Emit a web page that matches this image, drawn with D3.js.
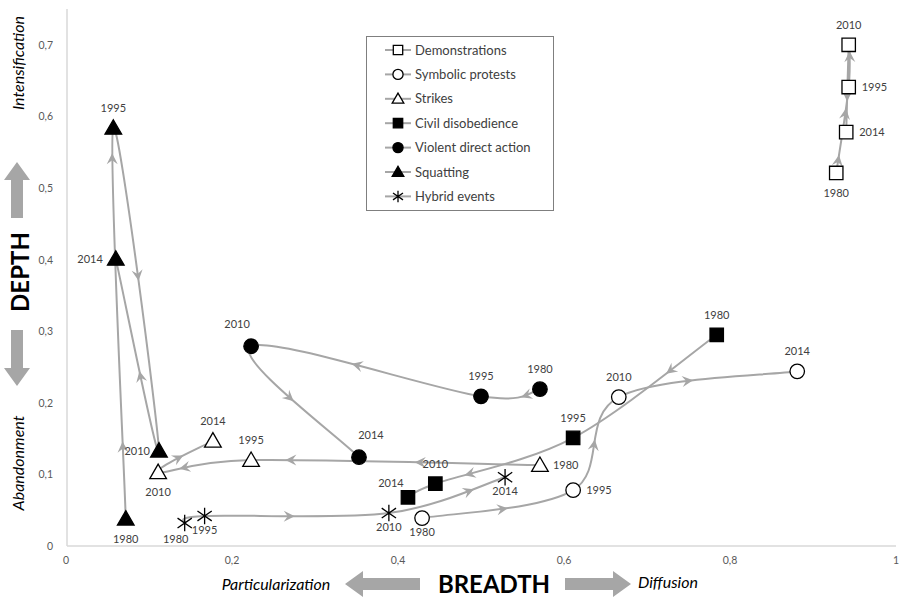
<!DOCTYPE html>
<html><head><meta charset="utf-8">
<script src="https://cdn.jsdelivr.net/npm/d3@7"></script>
<style>body{margin:0;background:#fff}svg{display:block}text{font-family:Lato,"Open Sans",sans-serif}</style>
</head><body>
<svg id="c" width="899" height="598"></svg>
<script>
// ---- data ----
const categories = ["Demonstrations","Symbolic protests","Strikes","Civil disobedience","Violent direct action","Squatting","Hybrid events"];
const years = ["1980","1995","2010","2014"];
// [breadth, depth] in year order 1980, 1995, 2010, 2014
const demonstrations = [[0.928,0.521],[0.943,0.641],[0.943,0.700],[0.940,0.578]];
const symbolicProtests = [[0.429,0.039],[0.611,0.078],[0.666,0.208],[0.881,0.244]];
const strikes = [[0.571,0.113],[0.223,0.120],[0.111,0.103],[0.177,0.147]];
const civilDisobedience = [[0.784,0.295],[0.611,0.151],[0.445,0.087],[0.412,0.068]];
const violentDirectAction = [[0.571,0.219],[0.500,0.209],[0.223,0.279],[0.353,0.124]];
const squatting = [[0.072,0.038],[0.057,0.584],[0.112,0.133],[0.060,0.401]];
const hybridEvents = [[0.143,0.032],[0.167,0.042],[0.389,0.046],[0.529,0.096]];
const xTicks = [0,0.2,0.4,0.6,0.8,1];
const yTicks = [0,0.1,0.2,0.3,0.4,0.5,0.6,0.7];

// ---- style / layout ----
const seriesData = [demonstrations,symbolicProtests,strikes,civilDisobedience,violentDirectAction,squatting,hybridEvents];
const markerKind = ["square","circle","triangle","square","circle","triangle","star"];
const markerFill = ["#fff","#fff","#fff","#000","#000","#000","none"];
const labelPlace = [["b","r","t","r"],["b2","r","t","t"],["r","t","b","t"],["t","t","t","tl"],["t","t","tl2","tr"],["b","t","l2","l"],["bl","b2","b2","b2"]];
const arrowSpots = [[[0,0.22],[0,0.7],[1,0.5],[2,0.6]],[[0,0.55],[1,0.5],[2,0.4]],[[0,0.45],[0,0.84],[1,0.5],[2,0.5]],[[0,0.4],[1,0.7]],[[0,0.5],[1,0.5],[2,0.5]],[[0,0.22],[0,0.83],[1,0.5],[2,0.5]],[[1,0.5],[2,0.6]]];

const svg = d3.select("#c");
const x = d3.scaleLinear().domain([0,1]).range([66,896]);
const y = d3.scaleLinear().domain([0,0.75]).range([546,9]);
const LINE = "#a6a6a6", TXT = "#404040";

// axis lines
svg.append("line").attr("x1",x(0)+1).attr("x2",x(0)+1).attr("y1",y(0.75)).attr("y2",y(0)).attr("stroke","#d9d9d9").attr("stroke-width",1.5);
svg.append("line").attr("x1",x(0)+1).attr("x2",x(1)).attr("y1",y(0)).attr("y2",y(0)).attr("stroke","#d9d9d9").attr("stroke-width",1.5);
const fmt = v => (v===0||v===1) ? String(v) : String(v).replace(".",",");
svg.append("g").selectAll("text").data(xTicks).join("text")
  .attr("x",d=>x(d)).attr("y",564).attr("text-anchor","middle").attr("font-size",10.5).attr("fill","#595959").text(fmt);
svg.append("g").selectAll("text").data(yTicks).join("text")
  .attr("x",53).attr("y",d=>y(d)+4).attr("text-anchor","end").attr("font-size",10.5).attr("fill","#595959").text(fmt);

// catmull-rom segments
function segs(pts){
  const p = pts.map(d=>[x(d[0]),y(d[1])]);
  const n = p.length, out=[];
  for(let i=0;i<n-1;i++){
    const p0=p[Math.max(i-1,0)], p1=p[i], p2=p[i+1], p3=p[Math.min(i+2,n-1)];
    out.push([p1,[p1[0]+(p2[0]-p0[0])/6,p1[1]+(p2[1]-p0[1])/6],[p2[0]-(p3[0]-p1[0])/6,p2[1]-(p3[1]-p1[1])/6],p2]);
  }
  return out;
}
function bez(s,t){
  const u=1-t;
  const px=u*u*u*s[0][0]+3*u*u*t*s[1][0]+3*u*t*t*s[2][0]+t*t*t*s[3][0];
  const py=u*u*u*s[0][1]+3*u*u*t*s[1][1]+3*u*t*t*s[2][1]+t*t*t*s[3][1];
  const dx=3*u*u*(s[1][0]-s[0][0])+6*u*t*(s[2][0]-s[1][0])+3*t*t*(s[3][0]-s[2][0]);
  const dy=3*u*u*(s[1][1]-s[0][1])+6*u*t*(s[2][1]-s[1][1])+3*t*t*(s[3][1]-s[2][1]);
  return [px,py,Math.atan2(dy,dx)*180/Math.PI];
}
const arrowHead = "M0,0L-11,-5.5L-7,0L-11,5.5Z";

const gLines = svg.append("g"), gMarks = svg.append("g"), gLabels = svg.append("g");
const star = {draw(ctx,size){const r=Math.sqrt(size)/2;ctx.moveTo(0,-r);ctx.lineTo(0,r);const a=r*0.87,b=r*0.6;ctx.moveTo(-a,-b);ctx.lineTo(a,b);ctx.moveTo(-a,b);ctx.lineTo(a,-b);}};
const symType = {square:d3.symbolSquare,circle:d3.symbolCircle,triangle:d3.symbolTriangle,star:star};
const symSize = {square:180,circle:165,triangle:120,star:270};
function marker(g,kind,fill,cx,cy,scale){
  g.append("path").attr("d",d3.symbol(symType[kind],symSize[kind]*scale*scale)())
    .attr("transform",`translate(${cx},${cy + (kind==="triangle"?1.5*scale:0)})`)
    .attr("fill",fill).attr("stroke","#000").attr("stroke-width",1.3);
}
const off = {t:[0,-16,"middle"],b:[0,24,"middle"],b2:[0,18,"middle"],r:[13,4,"start"],l:[-13,4,"end"],l2:[-9,4,"end"],
  tl:[-17,-10,"middle"],tl2:[-14,-18,"middle"],tr:[12,-18,"middle"],bl:[-9,20,"middle"]};

seriesData.forEach((pts,si)=>{
  const S = segs(pts);
  const path = d3.path();
  path.moveTo(S[0][0][0],S[0][0][1]);
  S.forEach(s=>path.bezierCurveTo(s[1][0],s[1][1],s[2][0],s[2][1],s[3][0],s[3][1]));
  gLines.append("path").attr("d",path.toString()).attr("fill","none").attr("stroke",LINE).attr("stroke-width",2);
  arrowSpots[si].forEach(([k,t])=>{
    const [ax,ay,ang]=bez(S[k],t);
    gLines.append("path").attr("d",arrowHead).attr("fill",LINE).attr("transform",`translate(${ax+4*Math.cos(ang*Math.PI/180)},${ay+4*Math.sin(ang*Math.PI/180)}) rotate(${ang})`);
  });
  pts.forEach((d,i)=>{
    const cx=x(d[0]), cy=y(d[1]);
    marker(gMarks,markerKind[si],markerFill[si],cx,cy,1);
    const o = off[labelPlace[si][i]];
    gLabels.append("text").attr("x",cx+o[0]).attr("y",cy+o[1]).attr("text-anchor",o[2])
      .attr("font-size",11).attr("fill",TXT).text(years[i]);
  });
});

// legend
const lg = svg.append("g");
lg.append("rect").attr("x",366.5).attr("y",36.5).attr("width",187).attr("height",174).attr("fill","#fff").attr("stroke","#7f7f7f").attr("stroke-width",1);
categories.forEach((c,i)=>{
  const ly = 50 + i*24.4;
  lg.append("line").attr("x1",385).attr("x2",411).attr("y1",ly).attr("y2",ly).attr("stroke",LINE).attr("stroke-width",2);
  marker(lg,markerKind[i],markerFill[i],398,ly,0.7);
  lg.append("text").attr("x",415).attr("y",ly+4.5).attr("font-size",13).attr("fill",TXT).text(c);
});

// axis titles with block arrows
const AR = "#a6a6a6";
function blockArrow(x1,y1,len,dir){
  const sh=6, hw=13, hl=18;
  const d=`M0,${-sh}L${len-hl},${-sh}L${len-hl},${-hw}L${len},0L${len-hl},${hw}L${len-hl},${sh}L0,${sh}Z`;
  svg.append("path").attr("d",d).attr("fill",AR).attr("transform",`translate(${x1},${y1}) rotate(${dir})`);
}
blockArrow(17,218,56,-90);
blockArrow(17,330,56,90);
blockArrow(420,584,75,180);
blockArrow(565,584,66,0);
svg.append("text").attr("transform","translate(24,63) rotate(-90)").attr("text-anchor","middle").attr("font-size",16).attr("font-style","italic").attr("fill","#000").text("Intensification");
svg.append("text").attr("transform","translate(29,272) rotate(-90)").attr("text-anchor","middle").attr("font-size",24).attr("font-weight","bold").attr("fill","#000").text("DEPTH");
svg.append("text").attr("transform","translate(24,463) rotate(-90)").attr("text-anchor","middle").attr("font-size",16).attr("font-style","italic").attr("fill","#000").text("Abandonment");
svg.append("text").attr("x",276).attr("y",590).attr("text-anchor","middle").attr("font-size",16).attr("font-style","italic").attr("fill","#000").text("Particularization");
svg.append("text").attr("x",494).attr("y",593).attr("text-anchor","middle").attr("font-size",24).attr("font-weight","bold").attr("fill","#000").text("BREADTH");
svg.append("text").attr("x",668).attr("y",588).attr("text-anchor","middle").attr("font-size",16).attr("font-style","italic").attr("fill","#000").text("Diffusion");
</script>
</body></html>
